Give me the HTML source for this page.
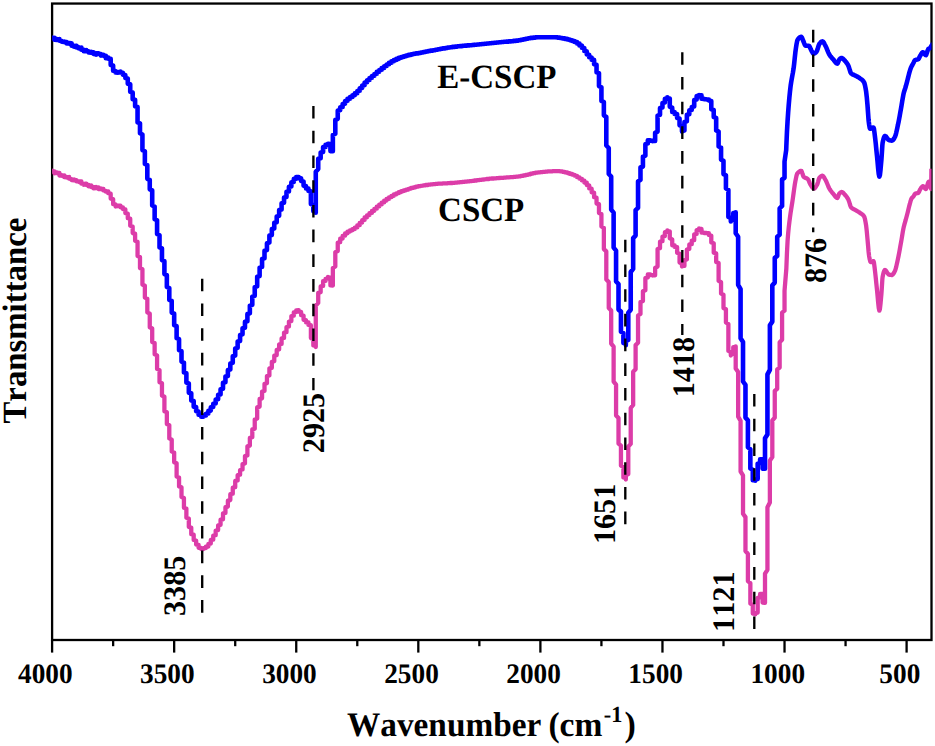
<!DOCTYPE html>
<html><head><meta charset="utf-8"><title>FTIR</title>
<style>
html,body{margin:0;padding:0;background:#fff;}
body{width:935px;height:746px;overflow:hidden;}
svg{display:block;}
text{font-family:"Liberation Serif",serif;font-weight:bold;fill:#000;font-kerning:none;text-rendering:geometricPrecision;}
</style></head><body>
<svg width="935" height="746" viewBox="0 0 935 746">
<rect x="0" y="0" width="935" height="746" fill="#fff"/>
<defs><clipPath id="pc"><rect x="52.1" y="3.55" width="879.40" height="636.45"/></clipPath></defs>
<g stroke="#000" stroke-width="2.3" fill="none">
<rect x="52.1" y="3.55" width="879.40" height="636.45"/>
<line x1="52.10" y1="640.0" x2="52.10" y2="652.6"/>
<line x1="113.14" y1="640.0" x2="113.14" y2="646.2"/>
<line x1="174.17" y1="640.0" x2="174.17" y2="652.6"/>
<line x1="235.21" y1="640.0" x2="235.21" y2="646.2"/>
<line x1="296.24" y1="640.0" x2="296.24" y2="652.6"/>
<line x1="357.28" y1="640.0" x2="357.28" y2="646.2"/>
<line x1="418.31" y1="640.0" x2="418.31" y2="652.6"/>
<line x1="479.35" y1="640.0" x2="479.35" y2="646.2"/>
<line x1="540.39" y1="640.0" x2="540.39" y2="652.6"/>
<line x1="601.42" y1="640.0" x2="601.42" y2="646.2"/>
<line x1="662.46" y1="640.0" x2="662.46" y2="652.6"/>
<line x1="723.49" y1="640.0" x2="723.49" y2="646.2"/>
<line x1="784.53" y1="640.0" x2="784.53" y2="652.6"/>
<line x1="845.56" y1="640.0" x2="845.56" y2="646.2"/>
<line x1="906.60" y1="640.0" x2="906.60" y2="652.6"/>
</g>
<g clip-path="url(#pc)" fill="none" stroke-linejoin="round" stroke-linecap="butt">
<path d="M49.66,171.2 L49.66,170.6 L52.10,170.6 L52.10,171.5 L52.10,171.3 L54.54,171.3 L54.54,173.4 L54.54,173.0 L56.98,172.8 L56.98,172.4 L56.98,173.1 L56.98,172.9 L59.42,172.8 L59.42,175.5 L61.87,175.4 L61.87,175.1 L61.87,175.9 L61.87,175.9 L64.31,175.8 L64.31,175.3 L64.31,177.2 L66.75,177.4 L66.75,176.9 L66.75,177.5 L69.19,177.5 L69.19,177.0 L69.19,178.7 L71.63,179.1 L71.63,180.1 L74.07,180.3 L74.07,180.4 L74.07,179.5 L74.07,179.9 L76.51,180.2 L76.51,181.4 L76.51,181.3 L78.96,181.4 L78.96,182.1 L78.96,181.3 L81.40,181.4 L81.40,183.7 L83.84,183.8 L83.84,184.9 L83.84,183.9 L86.28,183.7 L86.28,183.6 L86.28,185.1 L86.28,185.1 L88.72,185.0 L88.72,186.4 L88.72,186.1 L91.16,185.9 L91.16,185.4 L91.16,187.0 L93.60,187.1 L93.60,187.0 L93.60,188.4 L93.60,188.4 L96.05,188.2 L96.05,186.8 L96.05,187.6 L98.49,187.7 L98.49,187.5 L98.49,189.0 L100.93,189.2 L100.93,189.2 L100.93,188.3 L100.93,188.8 L103.37,189.0 L103.37,190.4 L105.81,190.8 L105.81,191.7 L105.81,191.1 L108.25,191.3 L108.25,193.2 L110.69,193.7 L110.69,198.6 L113.14,199.1 L113.14,204.2 L115.58,204.5 L115.58,206.6 L115.58,206.3 L118.02,206.1 L118.02,205.7 L120.46,205.6 L120.46,205.6 L120.46,207.3 L122.90,207.3 L122.90,209.1 L125.34,209.3 L125.34,213.1 L127.78,213.5 L127.78,218.2 L130.23,218.7 L130.23,225.8 L132.67,226.5 L132.67,233.1 L135.11,233.7 L135.11,240.8 L137.55,241.7 L137.55,256.0 L139.99,256.9 L139.99,268.0 L142.43,269.2 L142.43,284.6 L144.87,285.8 L144.87,297.6 L147.32,298.7 L147.32,312.4 L149.76,313.7 L149.76,327.3 L152.20,328.5 L152.20,342.0 L154.64,343.0 L154.64,354.3 L157.08,355.4 L157.08,368.9 L159.52,370.1 L159.52,382.2 L161.96,383.2 L161.96,395.5 L164.41,396.7 L164.41,411.2 L166.85,412.3 L166.85,424.0 L169.29,425.1 L169.29,438.4 L171.73,439.6 L171.73,451.5 L174.17,452.4 L174.17,462.3 L176.61,463.3 L176.61,476.4 L179.05,477.4 L179.05,486.4 L181.50,487.2 L181.50,497.1 L183.94,498.0 L183.94,507.8 L186.38,508.6 L186.38,517.7 L188.82,518.5 L188.82,527.0 L191.26,527.6 L191.26,534.2 L193.70,534.7 L193.70,540.0 L196.14,540.5 L196.14,544.6 L198.59,544.8 L198.59,547.8 L201.03,548.0 L201.03,549.0 L201.03,549.0 L203.47,549.0 L203.47,548.2 L205.91,548.1 L205.91,546.7 L208.35,546.5 L208.35,543.9 L210.79,543.6 L210.79,540.0 L213.23,539.7 L213.23,535.6 L215.68,535.2 L215.68,530.5 L218.12,530.1 L218.12,525.3 L220.56,524.8 L220.56,519.7 L223.00,519.3 L223.00,513.4 L225.44,512.9 L225.44,507.2 L227.88,506.6 L227.88,500.7 L230.32,500.1 L230.32,494.2 L232.77,493.7 L232.77,487.7 L235.21,487.2 L235.21,480.9 L237.65,480.4 L237.65,475.1 L240.09,474.7 L240.09,470.0 L242.53,469.5 L242.53,464.1 L244.97,463.5 L244.97,456.1 L247.41,455.4 L247.41,446.3 L249.86,445.6 L249.86,437.9 L252.30,437.2 L252.30,429.4 L254.74,428.7 L254.74,419.5 L257.18,418.5 L257.18,407.4 L259.62,406.6 L259.62,398.9 L262.06,398.3 L262.06,391.5 L264.50,390.9 L264.50,383.8 L266.95,383.2 L266.95,376.1 L269.39,375.4 L269.39,368.3 L271.83,367.8 L271.83,361.8 L274.27,361.2 L274.27,355.6 L276.71,355.1 L276.71,349.8 L279.15,349.3 L279.15,344.3 L281.59,343.9 L281.59,338.4 L284.04,337.9 L284.04,332.6 L286.48,332.2 L286.48,327.0 L288.92,326.5 L288.92,321.5 L291.36,321.1 L291.36,316.1 L293.80,315.7 L293.80,312.3 L296.24,312.1 L296.24,310.3 L298.68,310.2 L298.68,310.2 L298.68,311.7 L301.13,312.0 L301.13,315.2 L303.57,315.6 L303.57,319.8 L306.01,320.1 L306.01,322.4 L308.45,322.5 L308.45,324.9 L310.89,325.2 L310.89,338.1 L313.33,338.9 L313.33,345.4 L315.77,345.8 L315.77,347.0 L315.77,305.7 L318.22,302.9 L318.22,292.8 L320.66,292.2 L320.66,286.4 L323.10,285.9 L323.10,281.1 L325.54,280.9 L325.54,278.9 L327.98,278.7 L327.98,277.0 L327.98,277.1 L330.42,277.5 L330.42,285.4 L332.86,285.5 L332.86,268.0 L335.31,266.4 L335.31,252.1 L337.75,251.0 L337.75,242.6 L340.19,242.2 L340.19,238.7 L342.63,238.5 L342.63,235.9 L345.07,235.7 L345.07,233.4 L347.51,233.3 L347.51,231.6 L349.95,231.5 L349.95,230.4 L352.40,230.3 L352.40,229.1 L354.84,229.0 L354.84,227.6 L357.28,227.4 L357.28,225.4 L359.72,225.2 L359.72,222.8 L362.16,222.6 L362.16,220.2 L364.60,219.9 L364.60,217.5 L367.04,217.3 L367.04,215.3 L369.49,215.1 L369.49,213.1 L371.93,212.9 L371.93,210.9 L374.37,210.8 L374.37,208.8 L376.81,208.7 L376.81,206.6 L379.25,206.4 L379.25,204.6 L381.69,204.4 L381.69,202.6 L384.13,202.4 L384.13,200.7 L386.58,200.6 L386.58,199.0 L389.02,198.9 L389.02,197.3 L391.46,197.2 L391.46,195.9 L393.90,195.8 L393.90,194.5 L396.34,194.4 L396.34,193.3 L398.78,193.2 L398.78,192.2 L401.22,192.1 L401.22,191.2 L403.67,191.2 L403.67,190.3 L406.11,190.3 L406.11,189.6 L408.55,189.5 L408.55,188.8 L410.99,188.7 L410.99,188.0 L413.43,187.9 L413.43,187.3 L415.87,187.3 L415.87,186.7 L418.31,186.7 L418.31,186.2 L420.76,186.2 L420.76,185.8 L423.20,185.7 L423.20,185.3 L425.64,185.3 L425.64,185.0 L428.08,185.0 L428.08,184.7 L430.52,184.7 L430.52,184.4 L432.96,184.4 L432.96,184.2 L435.40,184.2 L435.40,183.9 L437.85,183.9 L437.85,183.7 L440.29,183.7 L440.29,183.6 L442.73,183.6 L442.73,183.4 L445.17,183.4 L445.17,183.3 L447.61,183.3 L447.61,183.2 L450.05,183.2 L450.05,183.0 L452.49,183.0 L452.49,182.8 L454.94,182.8 L454.94,182.7 L457.38,182.6 L457.38,182.4 L459.82,182.4 L459.82,182.2 L462.26,182.2 L462.26,181.9 L464.70,181.9 L464.70,181.7 L467.14,181.7 L467.14,181.4 L469.58,181.4 L469.58,181.1 L472.03,181.1 L472.03,180.8 L474.47,180.8 L474.47,180.5 L476.91,180.5 L476.91,180.2 L479.35,180.2 L479.35,179.9 L481.79,179.8 L481.79,179.6 L484.23,179.5 L484.23,179.3 L486.67,179.2 L486.67,179.0 L489.12,179.0 L489.12,178.7 L491.56,178.7 L491.56,178.5 L494.00,178.5 L494.00,178.3 L496.44,178.3 L496.44,178.1 L498.88,178.1 L498.88,178.0 L501.32,177.9 L501.32,177.8 L503.76,177.8 L503.76,177.6 L506.21,177.6 L506.21,177.4 L508.65,177.4 L508.65,177.3 L511.09,177.2 L511.09,177.1 L513.53,177.1 L513.53,176.8 L515.97,176.8 L515.97,176.6 L518.41,176.6 L518.41,176.3 L520.85,176.3 L520.85,175.9 L523.30,175.9 L523.30,175.4 L525.74,175.4 L525.74,174.9 L528.18,174.8 L528.18,174.3 L530.62,174.3 L530.62,173.7 L533.06,173.6 L533.06,173.2 L535.50,173.1 L535.50,172.7 L537.94,172.7 L537.94,172.3 L540.39,172.3 L540.39,172.1 L542.83,172.1 L542.83,171.8 L545.27,171.8 L545.27,171.6 L547.71,171.6 L547.71,171.4 L550.15,171.4 L550.15,171.3 L552.59,171.3 L552.59,171.2 L555.03,171.2 L555.03,171.1 L557.48,171.1 L557.48,171.1 L557.48,171.1 L559.92,171.1 L559.92,171.4 L562.36,171.4 L562.36,171.8 L564.80,171.8 L564.80,172.4 L567.24,172.5 L567.24,173.1 L569.68,173.2 L569.68,173.9 L572.12,173.9 L572.12,174.7 L574.57,174.8 L574.57,175.7 L577.01,175.8 L577.01,177.2 L579.45,177.3 L579.45,178.7 L581.89,178.8 L581.89,180.4 L584.33,180.6 L584.33,182.5 L586.77,182.7 L586.77,185.0 L589.21,185.3 L589.21,188.4 L591.66,188.7 L591.66,192.3 L594.10,192.7 L594.10,197.2 L596.54,197.7 L596.54,203.6 L598.98,204.2 L598.98,213.0 L601.42,213.9 L601.42,226.4 L603.86,227.9 L603.86,249.1 L606.30,251.4 L606.30,279.5 L608.75,282.0 L608.75,308.0 L611.19,310.5 L611.19,343.6 L613.63,346.6 L613.63,381.6 L616.07,384.6 L616.07,415.5 L618.51,418.0 L618.51,443.6 L620.95,445.6 L620.95,465.7 L623.39,467.0 L623.39,477.5 L625.84,478.0 L625.84,479.6 L625.84,475.2 L628.28,474.0 L628.28,446.6 L630.72,443.9 L630.72,408.0 L633.16,404.9 L633.16,371.8 L635.60,369.3 L635.60,345.1 L638.04,342.8 L638.04,315.5 L640.48,314.0 L640.48,302.0 L642.93,301.0 L642.93,291.2 L645.37,290.2 L645.37,278.1 L647.81,277.4 L647.81,274.5 L650.25,274.5 L650.25,275.0 L652.69,275.1 L652.69,275.5 L652.69,275.4 L655.13,275.3 L655.13,267.9 L657.57,266.6 L657.57,249.0 L660.02,248.3 L660.02,241.7 L662.46,241.2 L662.46,236.5 L664.90,236.1 L664.90,232.2 L667.34,231.9 L667.34,230.5 L667.34,231.0 L669.78,231.3 L669.78,238.3 L672.22,239.4 L672.22,245.3 L674.66,245.5 L674.66,246.9 L677.11,247.1 L677.11,252.7 L679.55,253.7 L679.55,262.6 L681.99,263.2 L681.99,266.6 L681.99,266.2 L684.43,265.9 L684.43,260.1 L686.87,259.5 L686.87,249.6 L689.31,248.9 L689.31,244.5 L691.75,244.2 L691.75,240.6 L694.20,240.2 L694.20,234.3 L696.64,233.9 L696.64,230.1 L699.08,229.8 L699.08,228.4 L699.08,228.7 L701.52,229.0 L701.52,232.7 L703.96,232.7 L703.96,233.0 L706.40,233.0 L706.40,233.1 L708.84,233.1 L708.84,235.0 L711.29,235.5 L711.29,242.5 L713.73,243.3 L713.73,252.7 L716.17,253.4 L716.17,261.9 L718.61,262.9 L718.61,280.9 L721.05,282.2 L721.05,293.6 L723.49,294.7 L723.49,308.1 L725.93,309.3 L725.93,322.4 L728.38,324.0 L728.38,350.9 L730.82,352.0 L730.82,355.5 L730.82,354.1 L733.26,353.6 L733.26,347.1 L735.70,346.8 L735.70,346.3 L735.70,368.4 L738.14,371.9 L738.14,416.7 L740.58,420.8 L740.58,471.5 L743.02,475.3 L743.02,513.8 L745.47,517.1 L745.47,551.0 L747.91,553.8 L747.91,581.1 L750.35,583.2 L750.35,603.6 L752.79,604.7 L752.79,613.6 L755.23,613.8 L755.23,614.4 L755.23,613.1 L757.67,612.6 L757.67,597.8 L760.11,597.2 L760.11,594.0 L762.56,594.0 L762.56,602.6 L765.00,602.8 L765.00,573.6 L767.44,569.8 L767.44,507.2 L769.88,502.6 L769.88,460.6 L772.32,457.0 L772.32,420.5 L774.76,417.7 L774.76,390.8 L777.20,388.8 L777.20,369.5 L779.65,367.6 L779.65,342.2 L782.09,339.8 L782.09,312.7 L784.53,310.7 L784.53,290.9 L786.35,268.5 L786.40,267.0 L786.95,253.1 L787.55,241.4 L787.70,239.2 L788.15,233.5 L788.75,227.4 L789.35,222.2 L789.70,219.4 L789.95,217.4 L790.55,213.2 L791.15,209.3 L791.75,205.6 L792.35,201.8 L792.70,199.5 L792.95,197.8 L793.55,193.4 L794.15,189.0 L794.75,184.9 L795.30,181.7 L795.35,181.4 L795.95,178.3 L796.55,175.5 L797.15,173.8 L797.20,173.7 L797.75,173.0 L798.35,172.3 L798.95,171.8 L799.55,171.3 L800.15,171.0 L800.75,170.8 L801.20,170.8 L801.35,170.9 L801.95,172.0 L802.55,174.0 L803.15,175.8 L803.60,176.7 L803.75,176.8 L804.35,177.3 L804.95,177.7 L805.55,177.9 L806.15,178.2 L806.75,178.4 L807.35,178.8 L807.95,179.2 L808.00,179.3 L808.55,180.2 L809.15,181.6 L809.75,183.1 L810.35,184.4 L810.50,184.7 L810.95,185.4 L811.55,186.3 L812.15,187.2 L812.75,187.9 L813.35,188.4 L813.90,188.6 L813.95,188.6 L814.55,188.4 L815.15,187.8 L815.75,187.0 L816.35,186.0 L816.95,185.0 L817.10,184.7 L817.55,183.6 L818.15,181.6 L818.75,179.4 L819.35,177.9 L819.50,177.7 L819.95,177.2 L820.55,176.6 L821.15,176.2 L821.75,175.8 L822.35,175.7 L822.40,175.7 L822.95,175.9 L823.55,176.6 L824.15,177.5 L824.75,178.6 L825.35,179.6 L825.40,179.7 L825.95,180.7 L826.55,182.1 L827.15,183.5 L827.75,185.0 L828.35,186.5 L828.95,187.8 L829.40,188.6 L829.55,188.8 L830.15,189.8 L830.75,190.7 L831.35,191.5 L831.95,192.3 L832.55,193.0 L833.15,193.7 L833.40,194.0 L833.75,194.4 L834.35,195.2 L834.95,196.1 L835.55,196.8 L836.15,197.4 L836.75,197.9 L837.30,198.0 L837.35,198.0 L837.95,197.1 L838.55,195.3 L839.15,193.8 L839.30,193.6 L839.75,193.1 L840.35,192.6 L840.95,192.2 L841.55,192.0 L841.70,192.0 L842.15,192.1 L842.75,192.4 L843.35,192.9 L843.95,193.6 L844.55,194.3 L845.15,195.0 L845.30,195.2 L845.75,195.7 L846.35,196.4 L846.95,197.3 L847.55,198.2 L848.15,199.2 L848.30,199.5 L848.75,200.6 L849.35,202.4 L849.95,204.5 L850.55,206.3 L851.15,207.4 L851.20,207.5 L851.75,208.0 L852.35,208.4 L852.95,208.8 L853.55,209.1 L854.15,209.3 L854.75,209.7 L855.20,209.9 L855.35,210.0 L855.95,210.3 L856.55,210.7 L857.15,211.1 L857.75,211.4 L858.35,211.8 L858.95,212.1 L859.55,212.5 L860.15,213.0 L860.20,213.0 L860.75,213.4 L861.35,213.8 L861.95,214.2 L862.55,214.6 L863.15,215.2 L863.75,215.9 L864.10,216.4 L864.35,216.9 L864.95,219.0 L865.55,222.1 L866.10,225.4 L866.15,225.7 L866.75,231.1 L867.35,237.6 L867.50,239.2 L867.95,244.3 L868.55,251.4 L869.10,256.1 L869.15,256.4 L869.75,259.5 L870.35,261.7 L870.70,262.1 L870.95,262.1 L871.55,261.9 L872.15,261.6 L872.75,261.3 L873.35,261.1 L873.50,261.1 L873.95,262.5 L874.55,267.1 L875.00,271.0 L875.15,272.2 L875.75,277.7 L876.35,283.7 L876.95,289.5 L877.00,290.0 L877.55,295.7 L878.15,302.5 L878.75,308.1 L879.35,310.7 L879.40,310.7 L879.95,308.8 L880.55,303.5 L881.15,296.8 L881.40,294.0 L881.75,289.0 L882.35,279.3 L882.60,277.0 L882.95,275.3 L883.55,272.8 L884.15,271.0 L884.75,270.1 L885.00,270.0 L885.35,270.1 L885.95,270.6 L886.55,271.5 L887.15,272.5 L887.75,273.5 L888.35,274.3 L888.90,274.6 L888.95,274.6 L889.55,274.7 L890.15,274.9 L890.75,274.9 L891.35,275.0 L891.90,275.0 L891.95,275.0 L892.55,274.7 L893.15,274.1 L893.75,273.2 L894.35,272.1 L894.90,271.0 L894.95,270.9 L895.55,269.3 L896.15,267.1 L896.75,264.4 L897.35,261.7 L897.90,259.1 L897.95,258.9 L898.55,256.0 L899.15,252.9 L899.75,249.6 L900.35,246.2 L900.90,243.2 L900.95,242.9 L901.55,239.5 L902.15,235.8 L902.75,232.2 L903.35,228.9 L903.80,226.8 L903.95,226.2 L904.55,223.9 L905.15,221.8 L905.75,219.7 L905.80,219.5 L906.35,217.5 L906.95,215.2 L907.55,213.0 L907.80,212.0 L908.15,210.6 L908.75,208.1 L909.35,205.6 L909.80,203.9 L909.95,203.4 L910.55,201.2 L911.15,199.3 L911.40,198.8 L911.75,198.2 L912.35,197.5 L912.95,196.9 L913.55,196.3 L913.60,196.2 L914.15,195.2 L914.75,194.1 L915.20,193.6 L915.35,193.5 L915.95,193.4 L916.55,193.3 L917.15,193.2 L917.75,193.1 L918.10,193.0 L918.35,192.8 L918.95,192.0 L919.55,190.7 L920.15,189.4 L920.70,188.5 L920.75,188.4 L921.35,187.6 L921.95,186.9 L922.55,186.3 L923.00,186.2 L923.15,186.2 L923.75,186.7 L924.35,187.5 L924.95,188.4 L925.55,189.0 L925.90,189.1 L926.15,188.9 L926.75,187.2 L927.35,185.1 L927.50,184.6 L927.95,183.1 L928.40,182.0 L928.55,181.9 L929.15,181.5 L929.70,181.4 L929.75,181.4 L930.35,184.4 L930.95,188.4 L931.20,189.0 L931.40,168.8" stroke="#DC3CA8" stroke-width="4.3"/>
<path d="M49.66,37.2 L49.66,38.1 L52.10,38.0 L52.10,37.5 L52.10,38.3 L54.54,38.2 L54.54,37.9 L54.54,39.7 L56.98,39.9 L56.98,39.9 L56.98,39.1 L56.98,39.6 L59.42,39.6 L59.42,39.1 L59.42,40.7 L61.87,41.1 L61.87,41.8 L64.31,42.0 L64.31,42.2 L64.31,41.5 L64.31,41.8 L66.75,42.1 L66.75,43.5 L66.75,43.1 L69.19,43.2 L69.19,43.8 L69.19,43.1 L69.19,43.1 L71.63,43.3 L71.63,45.7 L71.63,45.7 L74.07,45.7 L74.07,46.7 L74.07,46.0 L76.51,45.8 L76.51,45.7 L76.51,47.4 L76.51,47.4 L78.96,47.4 L78.96,47.3 L78.96,48.4 L78.96,48.3 L81.40,48.1 L81.40,47.5 L81.40,49.7 L83.84,49.8 L83.84,51.3 L86.28,51.2 L86.28,50.0 L86.28,51.0 L88.72,51.2 L88.72,52.4 L91.16,52.6 L91.16,52.8 L91.16,51.7 L91.16,52.1 L93.60,52.4 L93.60,54.0 L96.05,54.3 L96.05,54.8 L96.05,53.2 L98.49,53.3 L98.49,53.9 L98.49,53.8 L100.93,54.0 L100.93,55.6 L100.93,54.8 L103.37,54.7 L103.37,55.8 L103.37,55.7 L105.81,55.8 L105.81,58.2 L105.81,57.8 L108.25,57.6 L108.25,57.5 L108.25,58.7 L110.69,58.7 L110.69,65.0 L113.14,65.5 L113.14,70.8 L115.58,71.0 L115.58,72.5 L118.02,72.7 L118.02,72.7 L118.02,72.0 L118.02,72.2 L120.46,72.1 L120.46,71.6 L120.46,72.5 L122.90,72.8 L122.90,74.8 L125.34,75.1 L125.34,78.0 L127.78,78.5 L127.78,83.7 L130.23,84.3 L130.23,91.7 L132.67,92.4 L132.67,99.2 L135.11,99.7 L135.11,106.2 L137.55,107.0 L137.55,122.4 L139.99,123.3 L139.99,133.3 L142.43,134.5 L142.43,150.1 L144.87,151.3 L144.87,163.9 L147.32,165.0 L147.32,178.8 L149.76,179.8 L149.76,189.3 L152.20,190.4 L152.20,205.5 L154.64,206.6 L154.64,219.2 L157.08,220.3 L157.08,233.9 L159.52,235.2 L159.52,247.4 L161.96,248.4 L161.96,260.1 L164.41,261.2 L164.41,274.1 L166.85,275.1 L166.85,287.0 L169.29,288.1 L169.29,299.9 L171.73,300.9 L171.73,312.6 L174.17,313.7 L174.17,325.2 L176.61,326.2 L176.61,338.2 L179.05,339.2 L179.05,350.2 L181.50,351.2 L181.50,361.6 L183.94,362.6 L183.94,372.4 L186.38,373.2 L186.38,382.6 L188.82,383.4 L188.82,392.7 L191.26,393.3 L191.26,400.5 L193.70,401.1 L193.70,406.7 L196.14,407.1 L196.14,411.2 L198.59,411.5 L198.59,414.7 L201.03,414.9 L201.03,416.6 L203.47,416.6 L203.47,415.6 L205.91,415.5 L205.91,413.7 L208.35,413.5 L208.35,410.9 L210.79,410.6 L210.79,407.3 L213.23,407.0 L213.23,403.7 L215.68,403.4 L215.68,399.6 L218.12,399.2 L218.12,394.8 L220.56,394.4 L220.56,389.2 L223.00,388.7 L223.00,382.7 L225.44,382.2 L225.44,376.6 L227.88,376.0 L227.88,370.1 L230.32,369.6 L230.32,363.4 L232.77,362.8 L232.77,356.3 L235.21,355.6 L235.21,348.4 L237.65,347.8 L237.65,341.5 L240.09,341.0 L240.09,334.9 L242.53,334.3 L242.53,328.2 L244.97,327.7 L244.97,321.8 L247.41,321.2 L247.41,314.0 L249.86,313.3 L249.86,305.6 L252.30,304.8 L252.30,296.6 L254.74,295.8 L254.74,287.1 L257.18,286.3 L257.18,276.7 L259.62,276.0 L259.62,267.6 L262.06,266.9 L262.06,258.9 L264.50,258.2 L264.50,250.8 L266.95,250.1 L266.95,243.2 L269.39,242.6 L269.39,235.6 L271.83,235.0 L271.83,229.1 L274.27,228.6 L274.27,222.8 L276.71,222.3 L276.71,216.4 L279.15,215.8 L279.15,210.0 L281.59,209.4 L281.59,203.3 L284.04,202.8 L284.04,197.4 L286.48,196.9 L286.48,191.8 L288.92,191.4 L288.92,186.8 L291.36,186.4 L291.36,182.2 L293.80,181.9 L293.80,178.9 L296.24,178.7 L296.24,177.1 L298.68,177.0 L298.68,177.0 L298.68,178.1 L301.13,178.3 L301.13,181.1 L303.57,181.5 L303.57,185.8 L306.01,186.1 L306.01,188.4 L308.45,188.5 L308.45,190.9 L310.89,191.2 L310.89,204.1 L313.33,204.9 L313.33,211.2 L315.77,211.6 L315.77,212.8 L315.77,171.7 L318.22,168.9 L318.22,158.8 L320.66,158.2 L320.66,152.4 L323.10,151.9 L323.10,147.1 L325.54,146.9 L325.54,144.9 L327.98,144.8 L327.98,143.7 L327.98,143.8 L330.42,144.1 L330.42,151.1 L332.86,151.2 L332.86,135.1 L335.31,133.7 L335.31,119.9 L337.75,118.8 L337.75,110.5 L340.19,110.2 L340.19,107.2 L342.63,107.0 L342.63,104.1 L345.07,103.8 L345.07,101.0 L347.51,100.8 L347.51,98.8 L349.95,98.7 L349.95,97.1 L352.40,96.9 L352.40,95.3 L354.84,95.1 L354.84,93.3 L357.28,93.2 L357.28,91.0 L359.72,90.8 L359.72,88.3 L362.16,88.0 L362.16,85.5 L364.60,85.2 L364.60,82.5 L367.04,82.3 L367.04,80.2 L369.49,80.0 L369.49,78.0 L371.93,77.8 L371.93,76.0 L374.37,75.8 L374.37,74.0 L376.81,73.8 L376.81,71.9 L379.25,71.8 L379.25,70.0 L381.69,69.8 L381.69,68.0 L384.13,67.9 L384.13,66.2 L386.58,66.0 L386.58,64.5 L389.02,64.3 L389.02,62.8 L391.46,62.7 L391.46,61.4 L393.90,61.3 L393.90,60.1 L396.34,60.0 L396.34,58.9 L398.78,58.9 L398.78,57.9 L401.22,57.8 L401.22,57.0 L403.67,56.9 L403.67,56.2 L406.11,56.2 L406.11,55.5 L408.55,55.5 L408.55,54.9 L410.99,54.9 L410.99,54.3 L413.43,54.3 L413.43,53.9 L415.87,53.8 L415.87,53.4 L418.31,53.4 L418.31,53.0 L420.76,52.9 L420.76,52.5 L423.20,52.5 L423.20,52.0 L425.64,52.0 L425.64,51.5 L428.08,51.5 L428.08,51.0 L430.52,51.0 L430.52,50.6 L432.96,50.6 L432.96,50.2 L435.40,50.1 L435.40,49.7 L437.85,49.6 L437.85,49.2 L440.29,49.2 L440.29,48.8 L442.73,48.8 L442.73,48.4 L445.17,48.4 L445.17,48.0 L447.61,48.0 L447.61,47.6 L450.05,47.5 L450.05,47.2 L452.49,47.2 L452.49,46.9 L454.94,46.9 L454.94,46.6 L457.38,46.6 L457.38,46.3 L459.82,46.3 L459.82,46.1 L462.26,46.1 L462.26,45.9 L464.70,45.8 L464.70,45.6 L467.14,45.6 L467.14,45.4 L469.58,45.4 L469.58,45.2 L472.03,45.2 L472.03,45.0 L474.47,44.9 L474.47,44.7 L476.91,44.7 L476.91,44.5 L479.35,44.5 L479.35,44.2 L481.79,44.2 L481.79,44.0 L484.23,44.0 L484.23,43.7 L486.67,43.7 L486.67,43.5 L489.12,43.5 L489.12,43.2 L491.56,43.2 L491.56,43.0 L494.00,43.0 L494.00,42.7 L496.44,42.7 L496.44,42.5 L498.88,42.5 L498.88,42.2 L501.32,42.2 L501.32,42.0 L503.76,42.0 L503.76,41.8 L506.21,41.8 L506.21,41.6 L508.65,41.6 L508.65,41.4 L511.09,41.4 L511.09,41.2 L513.53,41.1 L513.53,40.9 L515.97,40.9 L515.97,40.6 L518.41,40.6 L518.41,40.3 L520.85,40.2 L520.85,39.8 L523.30,39.8 L523.30,39.2 L525.74,39.2 L525.74,38.7 L528.18,38.6 L528.18,38.2 L530.62,38.2 L530.62,37.9 L533.06,37.9 L533.06,37.6 L535.50,37.6 L535.50,37.4 L537.94,37.3 L537.94,37.2 L540.39,37.2 L540.39,37.2 L542.83,37.2 L545.27,37.2 L547.71,37.2 L550.15,37.2 L552.59,37.2 L552.59,37.2 L555.03,37.2 L555.03,37.3 L557.48,37.4 L557.48,37.6 L559.92,37.6 L559.92,38.0 L562.36,38.0 L562.36,38.4 L564.80,38.4 L564.80,38.9 L567.24,38.9 L567.24,39.4 L569.68,39.5 L569.68,40.1 L572.12,40.2 L572.12,41.0 L574.57,41.0 L574.57,42.0 L577.01,42.1 L577.01,43.4 L579.45,43.5 L579.45,45.4 L581.89,45.6 L581.89,47.8 L584.33,48.0 L584.33,51.0 L586.77,51.2 L586.77,54.5 L589.21,54.8 L589.21,57.3 L591.66,57.5 L591.66,59.7 L594.10,59.9 L594.10,64.3 L596.54,64.8 L596.54,72.3 L598.98,73.1 L598.98,86.1 L601.42,87.3 L601.42,100.9 L603.86,102.1 L603.86,115.3 L606.30,117.0 L606.30,145.5 L608.75,148.0 L608.75,174.0 L611.19,176.5 L611.19,209.6 L613.63,212.6 L613.63,247.6 L616.07,250.6 L616.07,281.5 L618.51,284.0 L618.51,309.6 L620.95,311.6 L620.95,331.8 L623.39,333.0 L623.39,343.0 L625.84,343.5 L625.84,345.2 L625.84,341.2 L628.28,340.0 L628.28,312.7 L630.72,309.8 L630.72,272.0 L633.16,268.9 L633.16,238.1 L635.60,235.6 L635.60,210.1 L638.04,207.8 L638.04,181.5 L640.48,179.9 L640.48,167.5 L642.93,166.5 L642.93,156.7 L645.37,155.7 L645.37,144.2 L647.81,143.4 L647.81,140.2 L650.25,140.2 L650.25,140.7 L652.69,140.8 L652.69,141.3 L652.69,141.0 L655.13,140.9 L655.13,132.8 L657.57,131.6 L657.57,115.6 L660.02,114.8 L660.02,108.0 L662.46,107.5 L662.46,102.9 L664.90,102.5 L664.90,98.8 L667.34,98.5 L667.34,97.3 L667.34,98.1 L669.78,98.5 L669.78,106.8 L672.22,107.7 L672.22,111.9 L674.66,112.1 L674.66,113.9 L677.11,114.1 L677.11,118.1 L679.55,118.5 L679.55,125.3 L681.99,126.2 L681.99,131.6 L681.99,131.1 L684.43,130.6 L684.43,121.9 L686.87,121.2 L686.87,114.8 L689.31,114.3 L689.31,110.2 L691.75,109.9 L691.75,106.9 L694.20,106.5 L694.20,100.0 L696.64,99.4 L696.64,96.1 L699.08,95.9 L699.08,95.1 L699.08,95.3 L701.52,95.4 L701.52,98.8 L703.96,98.9 L703.96,99.3 L706.40,99.3 L706.40,99.5 L708.84,99.5 L708.84,100.5 L711.29,101.0 L711.29,109.3 L713.73,109.9 L713.73,117.1 L716.17,117.9 L716.17,130.4 L718.61,131.6 L718.61,146.5 L721.05,147.6 L721.05,159.6 L723.49,160.8 L723.49,174.1 L725.93,175.3 L725.93,188.4 L728.38,190.0 L728.38,216.9 L730.82,218.0 L730.82,221.5 L730.82,220.1 L733.26,219.6 L733.26,213.1 L735.70,212.8 L735.70,212.3 L735.70,233.2 L738.14,236.7 L738.14,284.8 L740.58,289.1 L740.58,338.2 L743.02,342.0 L743.02,381.5 L745.47,384.8 L745.47,417.6 L747.91,420.3 L747.91,447.3 L750.35,449.3 L750.35,468.5 L752.79,469.7 L752.79,480.2 L755.23,480.3 L755.23,480.7 L755.23,479.6 L757.67,479.1 L757.67,463.6 L760.11,462.9 L760.11,459.4 L762.56,459.4 L762.56,468.6 L765.00,468.8 L765.00,438.2 L767.44,434.4 L767.44,374.4 L769.88,369.8 L769.88,325.2 L772.32,321.6 L772.32,285.3 L774.76,282.6 L774.76,257.9 L777.20,256.0 L777.20,236.8 L779.65,234.8 L779.65,208.3 L782.09,205.9 L782.09,179.5 L784.53,177.8 L784.53,161.5 L786.20,150.0 L786.35,146.2 L786.90,133.1 L786.95,132.2 L787.55,121.5 L788.15,112.5 L788.70,105.3 L788.75,104.7 L789.35,97.8 L789.95,91.8 L790.55,86.6 L790.70,85.4 L791.15,82.3 L791.75,78.8 L792.35,75.6 L792.95,72.4 L793.55,68.7 L793.70,67.6 L794.15,63.9 L794.75,58.0 L795.35,52.4 L795.70,49.7 L795.95,48.0 L796.55,44.1 L797.15,41.1 L797.60,39.8 L797.75,39.6 L798.35,38.7 L798.95,38.0 L799.55,37.5 L800.15,37.1 L800.75,36.9 L801.20,36.8 L801.35,36.8 L801.95,37.6 L802.55,39.1 L803.15,40.7 L803.60,41.8 L803.75,42.1 L804.35,43.6 L804.95,45.0 L805.55,45.7 L805.60,45.7 L806.15,45.7 L806.75,45.7 L807.35,45.7 L807.95,45.7 L808.55,45.7 L808.60,45.7 L809.15,46.0 L809.75,47.0 L810.35,48.3 L810.95,49.6 L811.50,50.7 L811.55,50.8 L812.15,51.9 L812.75,53.0 L813.35,53.7 L813.50,53.7 L813.95,53.6 L814.55,53.4 L815.15,53.0 L815.75,52.5 L816.35,51.9 L816.50,51.7 L816.95,50.9 L817.55,49.3 L818.15,47.2 L818.75,45.3 L819.35,43.9 L819.50,43.7 L819.95,43.2 L820.55,42.5 L821.15,41.9 L821.75,41.6 L822.35,41.4 L822.40,41.4 L822.95,41.6 L823.55,42.3 L824.15,43.3 L824.75,44.5 L825.35,45.6 L825.40,45.7 L825.95,46.8 L826.55,48.1 L827.15,49.6 L827.75,51.2 L828.35,52.6 L828.95,53.9 L829.40,54.7 L829.55,54.9 L830.15,55.8 L830.75,56.6 L831.35,57.3 L831.95,58.0 L832.55,58.7 L833.15,59.3 L833.40,59.6 L833.75,60.0 L834.35,60.8 L834.95,61.6 L835.55,62.4 L836.15,63.0 L836.75,63.5 L837.30,63.6 L837.35,63.6 L837.95,62.8 L838.55,61.2 L839.15,59.8 L839.30,59.6 L839.75,59.1 L840.35,58.5 L840.95,58.1 L841.30,58.0 L841.55,58.0 L842.15,58.2 L842.75,58.6 L843.35,59.1 L843.95,59.7 L844.55,60.4 L845.15,61.0 L845.30,61.2 L845.75,61.7 L846.35,62.5 L846.95,63.3 L847.55,64.2 L848.15,65.3 L848.30,65.6 L848.75,66.7 L849.35,68.6 L849.95,70.6 L850.55,72.4 L851.15,73.5 L851.20,73.5 L851.75,73.9 L852.35,74.3 L852.95,74.6 L853.55,74.8 L854.15,75.0 L854.75,75.3 L855.20,75.5 L855.35,75.6 L855.95,75.9 L856.55,76.2 L857.15,76.6 L857.75,76.9 L858.35,77.2 L858.95,77.6 L859.55,78.0 L860.15,78.5 L860.20,78.5 L860.75,78.9 L861.35,79.3 L861.95,79.8 L862.55,80.3 L863.15,81.0 L863.75,81.8 L864.10,82.4 L864.35,83.0 L864.95,85.1 L865.55,88.1 L866.10,91.4 L866.15,91.7 L866.75,96.9 L867.35,103.6 L867.50,105.3 L867.95,111.5 L868.55,119.8 L868.70,121.2 L869.15,124.6 L869.75,128.0 L870.10,128.7 L870.35,128.7 L870.95,128.5 L871.55,128.2 L872.15,127.9 L872.75,127.7 L873.35,127.5 L873.50,127.5 L873.95,128.8 L874.55,133.3 L875.00,137.0 L875.15,138.2 L875.75,143.6 L876.35,149.7 L876.95,155.5 L877.00,156.0 L877.55,161.7 L878.15,168.5 L878.75,174.1 L879.35,176.7 L879.40,176.7 L879.95,174.8 L880.55,169.4 L881.15,162.6 L881.40,159.8 L881.75,154.8 L882.35,145.3 L882.60,143.0 L882.95,141.3 L883.55,138.8 L884.15,137.0 L884.75,136.1 L885.00,136.0 L885.35,136.1 L885.95,136.5 L886.55,137.3 L887.15,138.1 L887.75,139.0 L888.35,139.7 L888.90,140.0 L888.95,140.0 L889.55,140.2 L890.15,140.4 L890.75,140.5 L891.35,140.6 L891.90,140.6 L891.95,140.6 L892.55,140.4 L893.15,139.8 L893.75,139.0 L894.35,138.0 L894.90,137.0 L894.95,136.9 L895.55,135.3 L896.15,133.1 L896.75,130.5 L897.35,127.7 L897.90,125.1 L897.95,124.9 L898.55,122.0 L899.15,118.9 L899.75,115.6 L900.35,112.2 L900.90,109.2 L900.95,108.9 L901.55,105.4 L902.15,101.7 L902.75,98.1 L903.35,94.8 L903.80,92.8 L903.95,92.2 L904.55,90.3 L905.15,88.5 L905.30,88.0 L905.75,86.5 L906.35,84.3 L906.95,82.1 L907.20,81.2 L907.55,79.8 L908.15,77.4 L908.75,75.0 L908.80,74.8 L909.35,72.7 L909.95,70.6 L910.55,68.7 L910.70,68.3 L911.15,67.2 L911.75,66.0 L912.35,65.0 L912.95,63.9 L913.00,63.8 L913.55,62.7 L914.15,61.4 L914.75,60.4 L915.20,60.0 L915.35,59.9 L915.95,59.8 L916.55,59.7 L917.15,59.6 L917.75,59.4 L918.10,59.3 L918.35,59.1 L918.95,58.3 L919.55,57.0 L920.15,55.8 L920.70,54.8 L920.75,54.7 L921.35,53.8 L921.95,53.0 L922.55,52.4 L923.00,52.2 L923.15,52.2 L923.75,52.7 L924.35,53.5 L924.95,54.4 L925.55,55.0 L925.90,55.1 L926.15,54.9 L926.75,53.3 L927.35,51.3 L927.50,50.9 L927.95,49.8 L928.40,49.0 L928.55,48.9 L929.15,48.6 L929.70,48.4 L929.75,48.4 L930.35,47.7 L930.95,46.7 L931.50,45.8 L931.55,45.7 L932.15,44.8 L932.75,43.9 L933.00,43.5" stroke="#0000FF" stroke-width="4.6"/>
</g>
<g stroke="#000" stroke-width="2.35" stroke-dasharray="12.6 12.12" fill="none">
<line x1="202.2" y1="278.7" x2="202.2" y2="612.9"/>
<line x1="313.4" y1="106" x2="313.4" y2="390.3"/>
<line x1="625.3" y1="239.7" x2="625.3" y2="524.4"/>
<line x1="682.3" y1="52.2" x2="682.3" y2="335"/>
<line x1="754.3" y1="394" x2="754.3" y2="629"/>
<line x1="813.2" y1="29.8" x2="813.2" y2="232.3"/>
</g>
<g>
<text transform="translate(45.3,682.6) scale(1,1.035)" text-anchor="middle" font-size="27.3">4000</text>
<text transform="translate(167.37,682.6) scale(1,1.035)" text-anchor="middle" font-size="27.3">3500</text>
<text transform="translate(289.44,682.6) scale(1,1.035)" text-anchor="middle" font-size="27.3">3000</text>
<text transform="translate(411.51,682.6) scale(1,1.035)" text-anchor="middle" font-size="27.3">2500</text>
<text transform="translate(533.59,682.6) scale(1,1.035)" text-anchor="middle" font-size="27.3">2000</text>
<text transform="translate(655.66,682.6) scale(1,1.035)" text-anchor="middle" font-size="27.3">1500</text>
<text transform="translate(777.73,682.6) scale(1,1.035)" text-anchor="middle" font-size="27.3">1000</text>
<text transform="translate(899.8,682.6) scale(1,1.035)" text-anchor="middle" font-size="27.3">500</text>
</g>
<g>
<text transform="translate(184.5,616.0) rotate(-90) scale(1,1.035)" font-size="30.2">3385</text>
<text transform="translate(324.3,453.20000000000005) rotate(-90) scale(1,1.035)" font-size="30.2">2925</text>
<text transform="translate(614.5,544.1) rotate(-90) scale(1,1.035)" font-size="30.2">1651</text>
<text transform="translate(693.5999999999999,397.3) rotate(-90) scale(1,1.035)" font-size="30.2">1418</text>
<text transform="translate(733.5999999999999,631.9) rotate(-90) scale(1,1.035)" font-size="30.2">1121</text>
<text transform="translate(826.0,283.1) rotate(-90) scale(1,1.035)" font-size="30.2">876</text>
</g>
<text transform="translate(437.2,88.0) scale(1,1.035)" font-size="33">E-CSCP</text>
<text transform="translate(438.1,221.4) scale(1,1.035)" font-size="33">CSCP</text>
<text transform="translate(347.0,736.1) scale(1,1.035)" font-size="33.3">Wavenumber</text>
<text transform="translate(548.4,736.1) scale(1,1.035)" font-size="33.5">(cm</text>
<text transform="translate(603.8,721.8) scale(1,1.035)" font-size="22.3">-1</text>
<text transform="translate(624.6,736.1) scale(1,1.035)" font-size="34">)</text>
<text transform="translate(25.6,320.6) rotate(-90) scale(1,1.035)" text-anchor="middle" font-size="32.8">Transmittance</text>
</svg>
</body></html>
